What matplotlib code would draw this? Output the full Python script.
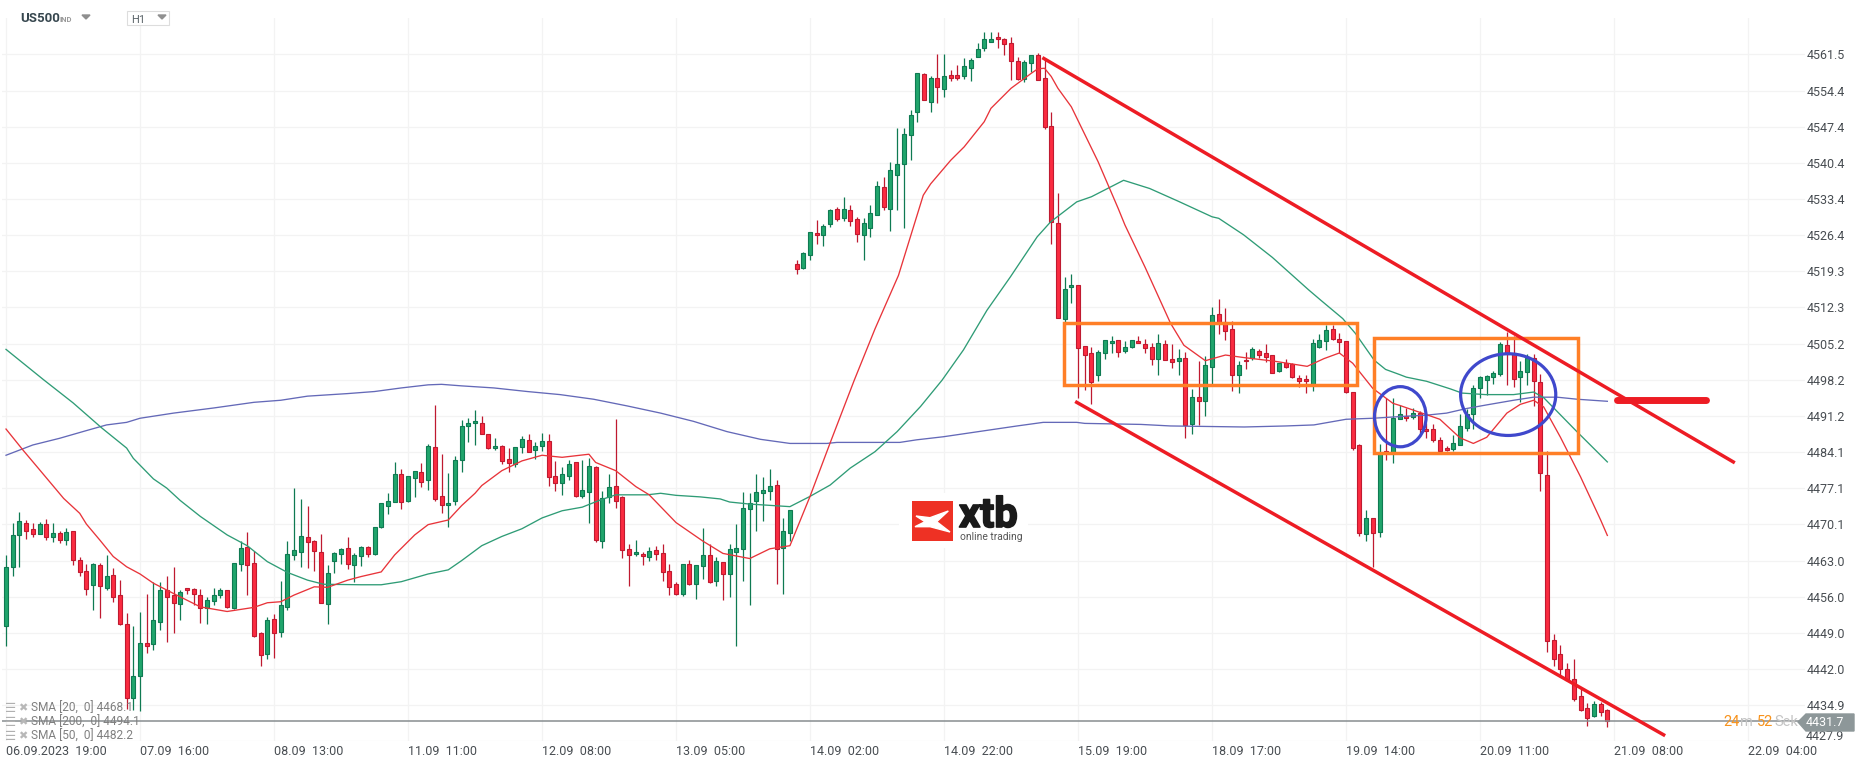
import matplotlib
matplotlib.use("Agg")
import matplotlib.pyplot as plt
import matplotlib.patheffects as pe
from matplotlib.patches import Ellipse, Polygon, Rectangle

W, H = 1866, 767

opens = [
    4450.3, 4461.7, 4467.9, 4470.3, 4469.1, 4468.1, 4470.1, 4467.5, 4468.3, 4467.1,
    4468.7, 4463.1, 4460.9, 4458.2, 4462.1, 4457.6, 4460.2, 4456.3, 4450.6, 4436.2,
    4440.5, 4446.9, 4446.7, 4451.0, 4457.2, 4456.4, 4454.5, 4457.6, 4457.4, 4456.4,
    4453.7, 4455.1, 4456.4, 4457.2, 4453.7, 4462.3, 4465.6, 4462.5, 4448.9, 4444.8,
    4451.6, 4449.2, 4453.9, 4464.0, 4464.6, 4467.5, 4466.8, 4464.6, 4454.5, 4462.9,
    4464.2, 4465.4, 4462.1, 4463.9, 4465.6, 4464.2, 4469.5, 4473.6, 4474.4, 4479.8,
    4474.6, 4479.0, 4480.2, 4478.7, 4485.1, 4475.5, 4473.8, 4474.6, 4482.6, 4489.1,
    4489.8, 4489.8, 4487.6, 4484.9, 4485.3, 4482.7, 4481.8, 4485.1, 4486.5, 4484.5,
    4485.3, 4486.3, 4479.4, 4478.1, 4479.4, 4482.2, 4475.5, 4476.3, 4481.2, 4466.8,
    4475.3, 4477.5, 4475.3, 4465.2, 4464.2, 4464.2, 4463.7, 4465.0, 4464.4, 4460.9,
    4458.4, 4456.6, 4462.3, 4458.4, 4461.9, 4464.0, 4459.0, 4462.7, 4460.3, 4464.6,
    4465.2, 4473.0, 4474.6, 4476.1, 4476.5, 4477.7, 4465.4, 4468.3, 4520.8, 4520.0,
    4522.5, 4526.8, 4526.4, 4528.4, 4531.5, 4529.6, 4531.3, 4529.4, 4526.4, 4527.8,
    4530.2, 4535.6, 4531.5, 4538.1, 4540.1, 4545.9, 4550.2, 4557.6, 4552.2, 4557.0,
    4554.7, 4557.4, 4557.4, 4557.2, 4558.8, 4560.9, 4562.7, 4563.9, 4564.8, 4564.4,
    4563.7, 4560.3, 4556.8, 4559.8, 4561.3, 4557.0, 4547.5, 4528.6, 4510.1, 4516.3,
    4516.7, 4504.7, 4503.3, 4499.2, 4503.3, 4505.3, 4505.9, 4503.7, 4504.5, 4505.7,
    4505.1, 4504.5, 4502.3, 4505.1, 4502.3, 4501.8, 4502.5, 4489.5, 4494.9, 4494.0,
    4500.6, 4510.9, 4509.4, 4508.0, 4499.2, 4502.1, 4502.5, 4503.7, 4503.3, 4503.1,
    4499.8, 4501.4, 4501.2, 4498.6, 4498.4, 4497.3, 4504.5, 4505.7, 4508.0, 4506.2,
    4505.7, 4495.9, 4485.4, 4468.2, 4471.2, 4468.6, 4484.4, 4484.0, 4490.5, 4491.2,
    4491.0, 4491.8, 4488.7, 4488.7, 4486.5, 4485.0, 4484.7, 4485.5, 4488.9, 4491.6,
    4496.6, 4498.2, 4498.8, 4499.3, 4505.0, 4503.4, 4498.8, 4499.7, 4502.5, 4497.8,
    4479.7, 4447.5, 4444.8, 4441.9, 4439.9, 4436.6, 4434.3, 4432.8, 4435.1, 4433.9,
]
closes = [
    4461.7, 4467.9, 4470.7, 4468.7, 4468.1, 4470.1, 4467.5, 4468.3, 4467.1, 4468.5,
    4463.2, 4460.7, 4457.4, 4462.3, 4458.0, 4460.0, 4456.0, 4450.7, 4436.2, 4440.5,
    4446.9, 4446.3, 4451.4, 4457.2, 4455.9, 4454.7, 4456.8, 4457.2, 4456.6, 4453.7,
    4455.3, 4456.4, 4457.2, 4453.9, 4462.5, 4465.4, 4462.1, 4448.3, 4444.6, 4451.4,
    4449.0, 4454.3, 4464.2, 4465.0, 4467.7, 4466.6, 4464.8, 4454.7, 4460.5, 4464.4,
    4465.2, 4462.3, 4464.0, 4465.6, 4464.2, 4469.5, 4474.2, 4474.6, 4479.8, 4474.4,
    4479.4, 4480.4, 4478.3, 4485.3, 4475.0, 4473.8, 4474.2, 4482.6, 4489.1, 4489.8,
    4490.2, 4487.6, 4485.0, 4485.3, 4482.3, 4482.0, 4485.1, 4486.6, 4484.1, 4485.3,
    4486.3, 4479.2, 4478.1, 4479.8, 4481.8, 4475.5, 4476.7, 4481.4, 4467.1, 4475.2,
    4477.3, 4474.6, 4465.0, 4464.0, 4464.6, 4463.9, 4464.8, 4464.2, 4460.7, 4457.8,
    4456.6, 4462.3, 4458.4, 4462.1, 4464.0, 4458.9, 4462.9, 4460.3, 4465.2, 4465.4,
    4473.2, 4474.2, 4476.3, 4476.7, 4477.5, 4465.2, 4468.7, 4472.8, 4519.8, 4522.9,
    4527.0, 4526.4, 4528.2, 4531.3, 4529.4, 4531.5, 4529.0, 4526.6, 4528.6, 4530.7,
    4535.8, 4531.9, 4539.1, 4540.1, 4546.1, 4549.8, 4557.8, 4552.7, 4557.0, 4555.1,
    4557.2, 4557.0, 4557.0, 4559.2, 4560.5, 4562.5, 4564.4, 4564.4, 4564.4, 4563.5,
    4560.2, 4556.8, 4560.0, 4561.3, 4556.6, 4547.3, 4528.8, 4510.3, 4515.9, 4516.7,
    4504.4, 4503.1, 4497.8, 4503.5, 4505.9, 4505.7, 4503.5, 4504.5, 4506.0, 4505.3,
    4504.3, 4502.3, 4505.3, 4502.1, 4501.7, 4502.5, 4489.4, 4494.9, 4494.0, 4501.0,
    4510.7, 4509.4, 4507.6, 4499.2, 4501.0, 4501.8, 4504.1, 4503.1, 4502.7, 4499.6,
    4501.4, 4500.6, 4498.8, 4497.9, 4498.0, 4505.3, 4506.0, 4507.8, 4506.2, 4505.5,
    4495.9, 4485.0, 4468.4, 4471.2, 4468.4, 4484.0, 4484.0, 4490.8, 4491.6, 4490.8,
    4491.8, 4488.7, 4488.3, 4486.4, 4484.3, 4484.5, 4485.8, 4489.2, 4491.6, 4496.6,
    4498.8, 4498.9, 4499.6, 4505.2, 4503.2, 4498.3, 4499.9, 4502.5, 4497.9, 4480.1,
    4447.3, 4443.8, 4441.9, 4439.7, 4436.0, 4433.9, 4432.4, 4435.1, 4433.5, 4431.8,
]
highs = [
    4464.1, 4470.3, 4472.4, 4470.9, 4470.3, 4470.5, 4471.1, 4470.3, 4468.8, 4469.3,
    4468.8, 4463.7, 4462.3, 4462.5, 4462.5, 4464.1, 4461.5, 4459.2, 4452.9, 4450.3,
    4453.0, 4456.5, 4458.9, 4458.9, 4460.0, 4461.8, 4457.2, 4457.6, 4457.6, 4457.4,
    4456.0, 4457.6, 4457.6, 4457.2, 4462.5, 4466.8, 4468.6, 4464.8, 4449.2, 4452.0,
    4452.7, 4459.0, 4466.8, 4477.1, 4475.0, 4473.7, 4467.0, 4468.1, 4462.2, 4464.6,
    4465.4, 4467.5, 4464.4, 4465.8, 4465.8, 4469.5, 4474.2, 4476.1, 4482.2, 4480.8,
    4479.4, 4480.4, 4482.0, 4485.7, 4493.3, 4483.7, 4480.0, 4483.3, 4490.4, 4490.7,
    4492.4, 4491.2, 4487.6, 4486.8, 4485.5, 4484.9, 4485.1, 4487.2, 4487.6, 4486.1,
    4487.8, 4487.7, 4482.4, 4481.2, 4482.6, 4482.2, 4482.6, 4482.9, 4481.4, 4476.5,
    4479.8, 4490.5, 4475.5, 4466.2, 4467.0, 4464.6, 4465.6, 4465.8, 4466.2, 4462.3,
    4458.9, 4462.3, 4463.1, 4462.1, 4469.3, 4466.2, 4463.7, 4462.7, 4466.2, 4470.1,
    4476.3, 4476.1, 4479.8, 4479.2, 4480.8, 4478.6, 4471.3, 4472.8, 4521.4, 4523.1,
    4527.0, 4529.2, 4528.4, 4531.5, 4531.9, 4533.7, 4532.1, 4529.8, 4529.6, 4532.1,
    4536.8, 4537.6, 4540.5, 4547.1, 4547.1, 4550.6, 4557.8, 4557.8, 4557.2, 4561.5,
    4561.6, 4558.4, 4559.4, 4560.7, 4560.7, 4563.7, 4565.8, 4565.8, 4565.8, 4564.6,
    4564.8, 4560.9, 4560.5, 4561.4, 4561.7, 4560.7, 4550.2, 4534.5, 4518.1, 4518.8,
    4516.7, 4504.7, 4504.5, 4503.9, 4505.9, 4506.8, 4505.9, 4505.7, 4506.0, 4506.7,
    4506.2, 4505.3, 4507.0, 4505.9, 4505.1, 4504.1, 4503.5, 4496.3, 4501.8, 4502.8,
    4512.3, 4514.0, 4512.1, 4509.6, 4501.8, 4503.5, 4504.5, 4504.1, 4505.1, 4503.1,
    4501.4, 4502.3, 4501.4, 4499.2, 4499.2, 4506.2, 4507.0, 4508.8, 4508.8, 4507.2,
    4505.7, 4495.9, 4485.6, 4472.9, 4471.2, 4485.6, 4494.7, 4494.7, 4493.2, 4492.7,
    4492.6, 4492.2, 4489.7, 4489.5, 4487.0, 4485.3, 4487.4, 4491.6, 4492.5, 4497.1,
    4499.0, 4499.2, 4499.9, 4505.5, 4507.4, 4506.8, 4501.8, 4503.2, 4503.2, 4499.3,
    4484.3, 4448.7, 4446.5, 4443.0, 4443.8, 4438.2, 4435.3, 4435.6, 4435.4, 4434.1,
]
lows = [
    4446.4, 4460.1, 4461.8, 4467.3, 4467.5, 4468.1, 4467.0, 4466.6, 4466.5, 4466.1,
    4462.2, 4460.1, 4456.4, 4453.3, 4451.9, 4457.2, 4455.0, 4450.5, 4434.1, 4433.9,
    4433.8, 4445.1, 4445.7, 4449.5, 4447.2, 4448.9, 4451.4, 4456.6, 4454.4, 4450.9,
    4450.7, 4454.4, 4455.7, 4453.8, 4453.6, 4460.9, 4456.3, 4448.2, 4442.5, 4443.9,
    4444.1, 4448.2, 4453.4, 4463.1, 4461.8, 4461.6, 4460.9, 4454.7, 4450.7, 4460.5,
    4462.4, 4461.4, 4458.9, 4462.0, 4463.7, 4464.0, 4469.3, 4472.1, 4474.4, 4473.1,
    4474.5, 4475.3, 4477.4, 4476.8, 4474.6, 4472.2, 4469.6, 4473.9, 4480.3, 4486.0,
    4485.4, 4487.6, 4484.7, 4484.6, 4481.8, 4480.2, 4481.2, 4484.0, 4484.1, 4482.7,
    4484.4, 4477.6, 4476.6, 4475.7, 4478.6, 4475.3, 4475.1, 4470.4, 4466.7, 4465.5,
    4474.3, 4473.3, 4463.6, 4458.1, 4463.8, 4462.2, 4463.0, 4463.1, 4459.1, 4456.4,
    4456.4, 4456.2, 4458.2, 4455.6, 4459.4, 4458.7, 4458.1, 4455.3, 4456.0, 4446.3,
    4459.0, 4454.4, 4468.7, 4470.7, 4474.8, 4458.5, 4456.6, 4466.8, 4518.8, 4519.8,
    4521.4, 4524.6, 4524.2, 4527.9, 4529.1, 4529.1, 4528.1, 4525.0, 4521.5, 4526.0,
    4530.2, 4531.2, 4527.2, 4531.2, 4527.7, 4541.0, 4548.4, 4552.7, 4550.2, 4552.1,
    4553.3, 4556.4, 4556.6, 4556.8, 4556.4, 4560.9, 4562.2, 4563.9, 4562.8, 4561.3,
    4556.5, 4556.6, 4556.2, 4558.1, 4556.5, 4547.0, 4524.6, 4510.3, 4509.4, 4513.1,
    4494.6, 4496.2, 4493.4, 4498.0, 4502.3, 4503.3, 4502.7, 4503.4, 4504.3, 4505.3,
    4503.3, 4501.1, 4499.2, 4502.1, 4500.5, 4499.2, 4486.9, 4487.7, 4489.4, 4491.2,
    4497.3, 4507.0, 4505.9, 4496.0, 4495.7, 4500.3, 4502.1, 4502.5, 4501.7, 4499.6,
    4499.7, 4500.5, 4498.6, 4496.7, 4495.7, 4496.0, 4504.3, 4504.0, 4506.0, 4503.3,
    4495.7, 4484.6, 4467.8, 4466.9, 4461.8, 4467.6, 4482.6, 4481.9, 4490.5, 4490.2,
    4490.5, 4487.8, 4486.9, 4486.0, 4484.3, 4484.3, 4484.3, 4485.4, 4488.2, 4488.6,
    4494.6, 4495.3, 4497.3, 4499.0, 4497.1, 4496.8, 4493.8, 4497.1, 4493.1, 4476.6,
    4445.3, 4442.5, 4440.8, 4439.5, 4435.6, 4433.8, 4430.9, 4432.6, 4432.7, 4430.6,
]

sma20_bars = [0, 2.6, 4.8, 8.6, 11, 12, 14, 16, 18, 20, 22, 25, 29, 33, 37, 39, 41, 43, 46, 48,
              51, 53, 56, 58, 61, 63, 66, 68, 70, 71, 74, 77, 80, 83, 87, 88, 91, 94, 96, 100,
              104, 107, 111, 114, 117, 120, 123, 126.6, 129.7, 133.2, 136.9, 138, 141, 143, 146,
              147, 150, 153, 154, 155, 156, 157, 159, 163, 166, 167, 170, 173.8, 175.8, 179, 182,
              184.8, 189.3, 194.2, 196.7, 199, 201, 204, 207, 208, 214, 217, 219, 221, 224, 226,
              228, 229.5, 232, 235, 238, 239]
sma20_vals = [4488.6, 4484.4, 4481.0, 4475.1, 4472.2, 4470.1, 4467.0, 4463.8, 4461.8, 4460.4,
              4458.6, 4456.6, 4454.0, 4453.1, 4453.9, 4454.8, 4455.0, 4456.3, 4457.9, 4457.8,
              4459.2, 4459.9, 4460.8, 4464.1, 4468.0, 4470.0, 4470.9, 4473.7, 4476.1, 4477.6,
              4480.5, 4482.4, 4483.5, 4483.1, 4483.7, 4482.1, 4480.5, 4477.4, 4475.8, 4470.4,
              4466.8, 4464.4, 4463.4, 4465.3, 4465.9, 4475.5, 4485.9, 4498.1, 4508.1, 4518.5,
              4534.1, 4536.3, 4540.9, 4543.5, 4548.4, 4551.0, 4554.9, 4557.8, 4558.7, 4558.8,
              4557.2, 4554.9, 4551.3, 4540.6, 4531.5, 4528.3, 4520.1, 4509.2, 4504.9, 4501.9,
              4503.0, 4502.5, 4501.8, 4500.8, 4502.3, 4503.4, 4501.4, 4496.5, 4493.6, 4493.2,
              4490.5, 4486.9, 4485.8, 4487.0, 4491.7, 4493.4, 4494.2, 4492.9, 4487.0, 4479.3,
              4470.9, 4467.9]

sma50_bars = [0, 5.6, 10, 14.3, 18, 19, 22, 24, 26, 29, 33, 36, 39, 42, 45, 47.4, 53, 56, 59, 63,
              66, 68, 71, 74, 77, 80, 83, 86, 88.7, 91, 95.7, 97.7, 100, 103.6, 106.6, 108, 111,
              117, 120, 123, 126, 129.7, 133, 136.5, 139.7, 142.9, 146.4, 149.9, 153.9, 155.9,
              159.8, 162, 166.8, 170.7, 175, 180, 181, 184.7, 189, 194.4, 196.2, 199.5, 201.4,
              204.2, 205.9, 208, 209, 212, 215.6, 217.3, 220.8, 225, 228, 229.5, 234.3, 239]
sma50_vals = [4504.1, 4498.2, 4493.7, 4488.8, 4484.9, 4482.9, 4478.9, 4477.1, 4474.7, 4471.6,
              4468.0, 4465.9, 4462.8, 4460.7, 4459.2, 4458.4, 4458.3, 4458.3, 4458.9, 4460.4,
              4461.2, 4463.0, 4465.9, 4467.7, 4469.2, 4471.3, 4472.7, 4473.4, 4474.8, 4475.8,
              4475.8, 4476.1, 4475.7, 4475.4, 4475.0, 4474.4, 4474.0, 4473.5, 4475.5, 4477.7,
              4481.0, 4484.2, 4488.1, 4493.0, 4498.1, 4504.0, 4511.7, 4518.2, 4526.0, 4528.9,
              4532.8, 4533.8, 4537.0, 4535.4, 4532.9, 4529.9, 4529.6, 4526.4, 4522.0, 4515.7,
              4513.7, 4510.1, 4507.2, 4502.0, 4500.2, 4499.2, 4498.7, 4497.9, 4496.4, 4495.6,
              4495.3, 4495.3, 4495.8, 4494.7, 4488.3, 4482.2]

sma200_bars = [0, 4, 8, 12, 15, 18, 20, 25, 31, 37, 41, 45, 51, 55, 59, 63, 65, 68, 72.8, 77.8,
               82.7, 87.7, 92.7, 97.7, 102.6, 107.6, 112.6, 117, 122.5, 124, 131.5, 133.4, 135.9,
               139.9, 150.9, 154.8, 159.8, 161, 169.4, 173.8, 184.8, 191, 195.2, 200, 204, 209,
               212, 215, 218, 221, 225, 228, 231.5, 234.5, 239]
sma200_vals = [4483.5, 4485.5, 4486.8, 4488.3, 4489.4, 4489.9, 4490.7, 4491.7, 4492.7, 4493.8,
               4494.2, 4495.0, 4495.5, 4495.9, 4496.6, 4497.2, 4497.3, 4497.0, 4496.6, 4495.9,
               4495.3, 4494.4, 4493.1, 4491.7, 4490.1, 4488.1, 4486.6, 4485.8, 4485.8, 4486.0,
               4486.0, 4486.0, 4486.5, 4487.1, 4489.2, 4489.9, 4489.9, 4489.7, 4489.5, 4489.2,
               4489.0, 4489.2, 4489.4, 4490.5, 4490.7, 4491.1, 4491.3, 4491.7, 4492.6, 4493.3,
               4494.2, 4494.8, 4494.8, 4494.4, 4494.0]

# drawings on the chart: (bar, price)
upper_channel = ([154.9, 257.8], [4560.7, 4482.2])
lower_channel = ([159.8, 247.4], [4493.8, 4429.1])
target_level = ([240.4, 253.7], [4494.2, 4494.2])
orange_boxes = [(157.9, 201.7, 4497.1, 4509.2), (204.2, 234.6, 4484.0, 4506.3)]
blue_circles = [(208.1, 4491.0, 7.7, 11.7), (224.2, 4495.3, 14.2, 15.9)]

price_ticks = [4561.5, 4554.4, 4547.4, 4540.4, 4533.4, 4526.4, 4519.3, 4512.3, 4505.2, 4498.2,
               4491.2, 4484.1, 4477.1, 4470.1, 4463.0, 4456.0, 4449.0, 4442.0, 4434.9, 4427.9]
time_ticks = [0, 20, 40, 60, 80, 100, 120, 140, 160, 180, 200, 220, 240, 260]
time_labels = ["06.09.2023  19:00", "07.09  16:00", "08.09  13:00", "11.09  11:00", "12.09  08:00",
               "13.09  05:00", "14.09  02:00", "14.09  22:00", "15.09  19:00", "18.09  17:00",
               "19.09  14:00", "20.09  11:00", "21.09  08:00", "22.09  04:00"]
last_price = 4431.7
sma_legend = ["SMA [20,  0] 4468.1", "SMA [200,  0] 4494.1", "SMA [50,  0] 4482.2"]

UP, UP_EDGE = "#20a56c", "#0f7a52"
DOWN, DOWN_EDGE = "#fb2b40", "#bf1a30"

plt.rcParams["font.family"] = ["Roboto", "DejaVu Sans"]


def fx(x):
    return x / W


def fy(y):
    return 1 - y / H


fig = plt.figure(figsize=(W / 100, H / 100), dpi=100, facecolor="white")
ax = fig.add_axes([fx(2), fy(741), fx(1803), 723 / H])
ax.set_xlim(-0.6, 268.5)
ax.set_ylim(4427.9, 4568.58)
for side in ax.spines.values():
    side.set_visible(False)

ax.grid(True, color="#f3f3f3", linewidth=0.95)
ax.set_axisbelow(True)
ax.yaxis.tick_right()
ax.set_yticks(price_ticks)
# the lowest label sits a little above its grid line, it is placed by hand further down
ax.set_yticklabels([f"{p:.1f}" for p in price_ticks[:-1]] + [""])
ax.set_xticks(time_ticks)
ax.set_xticklabels(time_labels, ha="left")
ax.tick_params(axis="y", length=0, pad=1, labelsize=9, labelcolor="#484d52")
ax.tick_params(axis="x", length=0, pad=3, labelsize=9, labelcolor="#484d52")
fig.text(fx(1806), fy(737), f"{price_ticks[-1]:.1f}", color="#484d52", fontsize=9, va="center")

for i in range(len(opens)):
    up = closes[i] >= opens[i]
    edge = UP_EDGE if up else DOWN_EDGE
    ax.vlines(i, lows[i], highs[i], color=edge, linewidth=0.9, zorder=2)
    ax.bar(i, abs(closes[i] - opens[i]), bottom=min(opens[i], closes[i]), width=0.6,
           color=UP if up else DOWN, edgecolor=edge, linewidth=0.8, zorder=2.5)

ax.plot(sma200_bars, sma200_vals, color="#6469b8", linewidth=0.95, zorder=3)
ax.plot(sma50_bars, sma50_vals, color="#2f9c76", linewidth=0.95, zorder=3)
ax.plot(sma20_bars, sma20_vals, color="#e8343a", linewidth=0.95, zorder=3.1)

ax.axhline(last_price, color="#878d90", linewidth=1.1, zorder=3)

for x0, x1, y0, y1 in orange_boxes:
    ax.add_patch(Rectangle((x0, y0), x1 - x0, y1 - y0, fill=False, edgecolor="#ff7f27",
                           linewidth=2.5, zorder=4))
for cx, cy, w, h in blue_circles:
    ax.add_patch(Ellipse((cx, cy), w, h, fill=False, edgecolor="#3f48cc", linewidth=2.3, zorder=4.2))
ax.plot(*upper_channel, color="#ed1c24", linewidth=2.5, zorder=4.1)
ax.plot(*lower_channel, color="#ed1c24", linewidth=2.5, zorder=4.1)
ax.plot(*target_level, color="#ed1c24", linewidth=5, solid_capstyle="round", zorder=4.3)

# last price tag and countdown
tag = [(1798, 722), (1806, 714), (1854, 714), (1854, 731), (1806, 731)]
fig.add_artist(Polygon([(fx(a), fy(b)) for a, b in tag], closed=True, color="#8d9799",
                       transform=fig.transFigure, zorder=6))
fig.text(fx(1806), fy(723), f"{last_price:.1f}", color="white", fontsize=9, va="center", zorder=7)
for x, txt, col in [(1723, "24", "#f7931e"), (1740, "m", "#c4c4c4"), (1757, "52", "#f7931e"),
                    (1774, "Sek", "#c4c4c4")]:
    fig.text(fx(x), fy(722), txt, color=col, fontsize=10.5, va="center", zorder=5)

# legend rows bottom left
for y, row in zip([708, 722, 736], sma_legend):
    fig.text(fx(5), fy(y), "☰", color="#b0b0b0", fontsize=9, va="center", zorder=5)
    fig.text(fx(18), fy(y), "✖", color="#b8b8b8", fontsize=8, va="center", zorder=5)
    fig.text(fx(31), fy(y), row, color="#808080", fontsize=8.6, va="center", zorder=5)

# header
fig.text(fx(20), fy(19), "US500", color="#37474f", fontsize=9.5, fontweight="bold", va="center")
fig.text(fx(60), fy(19), "IND", color="#9a9a9a", fontsize=5.5, fontweight="bold", va="center")
fig.add_artist(Rectangle((fx(127), fy(25)), fx(42), 14 / H, facecolor="white", edgecolor="#dddddd",
                         linewidth=0.8, transform=fig.transFigure))
fig.text(fx(131), fy(20), "H1", color="#5a6368", fontsize=8, va="center")
for tx in [86, 162]:
    tri = [(tx - 4, 15), (tx + 4, 15), (tx, 19)]
    fig.add_artist(Polygon([(fx(a), fy(b)) for a, b in tri], closed=True, color="#8f8f8f",
                           transform=fig.transFigure))

# xtb logo
fig.add_artist(Rectangle((fx(899), fy(548)), fx(129), 55 / H, facecolor="white", edgecolor="none",
                         transform=fig.transFigure, zorder=1.5))
fig.add_artist(Rectangle((fx(912), fy(541.3)), fx(40.7), 40 / H, facecolor="#ee3124", edgecolor="none",
                         transform=fig.transFigure, zorder=5))
logo_x = [(916, 516), (930, 517.7), (948.3, 511), (936.7, 521.7), (950, 532), (930, 526.7),
          (915, 526.7), (925, 521.7)]
fig.add_artist(Polygon([(fx(a), fy(b)) for a, b in logo_x], closed=True, color="white",
                       transform=fig.transFigure, zorder=5.5))
fig.text(fx(959), fy(527), "xtb", color="#1a1a1a", fontsize=30, fontweight="bold", va="baseline", zorder=5,
         path_effects=[pe.withStroke(linewidth=1.2, foreground="#1a1a1a")])
fig.text(fx(960), fy(537), "online trading", color="#555555", fontsize=7.4, va="center", zorder=5)

fig.savefig("out.png", dpi=100)
